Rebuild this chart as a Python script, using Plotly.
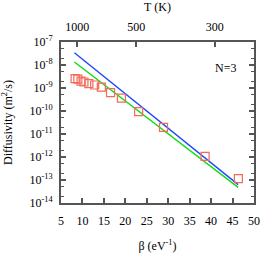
import plotly.graph_objects as go

# data
beta_pts = [8.29, 8.93, 9.67, 10.35, 11.50, 12.85, 14.40, 16.55, 19.10, 23.10, 28.90, 38.60, 46.35]
D_pts = [2.57e-9, 2.45e-9, 2.0e-9, 1.82e-9, 1.55e-9, 1.35e-9, 1.1e-9, 6.3e-10, 3.6e-10, 9.3e-11, 1.95e-11, 1.07e-12, 1.15e-13]

beta_line = [8.13, 46.3]
D_blue = [3.4e-8, 6.3e-14]
D_green = [1.35e-8, 4.8e-14]

x_ticks = [5, 10, 15, 20, 25, 30, 35, 40, 45, 50]
T_tickvals = [8.76, 22.52, 40.87]
T_ticktext = ["1000", "500", "300"]
y_tickvals = [1e-14, 1e-13, 1e-12, 1e-11, 1e-10, 1e-9, 1e-8, 1e-7]
y_ticktext = ["10<sup>-14</sup>", "10<sup>-13</sup>", "10<sup>-12</sup>", "10<sup>-11</sup>",
              "10<sup>-10</sup>", "10<sup>-9</sup>", "10<sup>-8</sup>", "10<sup>-7</sup>"]

FONT = "Liberation Serif"
FR = "#555555"

fig = go.Figure()
fig.add_trace(go.Scatter(x=beta_line, y=D_blue, mode="lines",
                         line=dict(color="#1f48ff", width=1.4), showlegend=False))
fig.add_trace(go.Scatter(x=beta_line, y=D_green, mode="lines",
                         line=dict(color="#11dd11", width=1.4), showlegend=False))
fig.add_trace(go.Scatter(x=beta_pts, y=D_pts, mode="markers",
                         marker=dict(symbol="square-open", size=8, color="#f26a5a",
                                     line=dict(width=1.2)), showlegend=False))
fig.add_trace(go.Scatter(x=[None], y=[None], xaxis="x2", showlegend=False))

fig.add_annotation(x=43.3, y=-8.13, text="N=3", showarrow=False,
                   font=dict(family=FONT, size=12, color="#000"))

fig.update_layout(
    width=274, height=274,
    margin=dict(l=60.5, r=20, t=42, b=71),
    paper_bgcolor="white", plot_bgcolor="white",
    font=dict(family=FONT, size=12, color="#000"),
    xaxis=dict(range=[5, 50], tickvals=x_ticks, ticks="inside", ticklen=5,
               tickcolor=FR, tickwidth=1.5, showline=True, linecolor=FR, linewidth=2,
               mirror=True, showgrid=False, zeroline=False, automargin=False,
               ticklabelstandoff=6,
               title=dict(text="β (eV<sup>-1</sup>)", standoff=14, font=dict(size=12))),
    xaxis2=dict(range=[5, 50], overlaying="x", side="top", tickvals=T_tickvals,
                ticktext=T_ticktext, ticks="inside", ticklen=5, tickcolor=FR,
                tickwidth=1.5, showgrid=False, zeroline=False, showline=False,
                automargin=False, ticklabelstandoff=8,
                title=dict(text="T (K)", standoff=6, font=dict(size=12))),
    yaxis=dict(type="log", range=[-14, -7], tickvals=y_tickvals, ticktext=y_ticktext,
               ticks="inside", ticklen=5, tickcolor=FR, tickwidth=1.5,
               showline=True, linecolor=FR, linewidth=2, mirror="ticks",
               showgrid=False, zeroline=False, automargin=False, ticklabelstandoff=4,
               minor=dict(ticks="inside", ticklen=3, tickcolor=FR, tickwidth=1,
                          dtick="D2", showgrid=False),
               title=dict(text="Diffusivity (m<sup>2</sup>/s)", standoff=14, font=dict(size=12))),
)

fig.write_html("out.html", config={"displayModeBar": False},
               post_script="document.body.style.margin='0';")
